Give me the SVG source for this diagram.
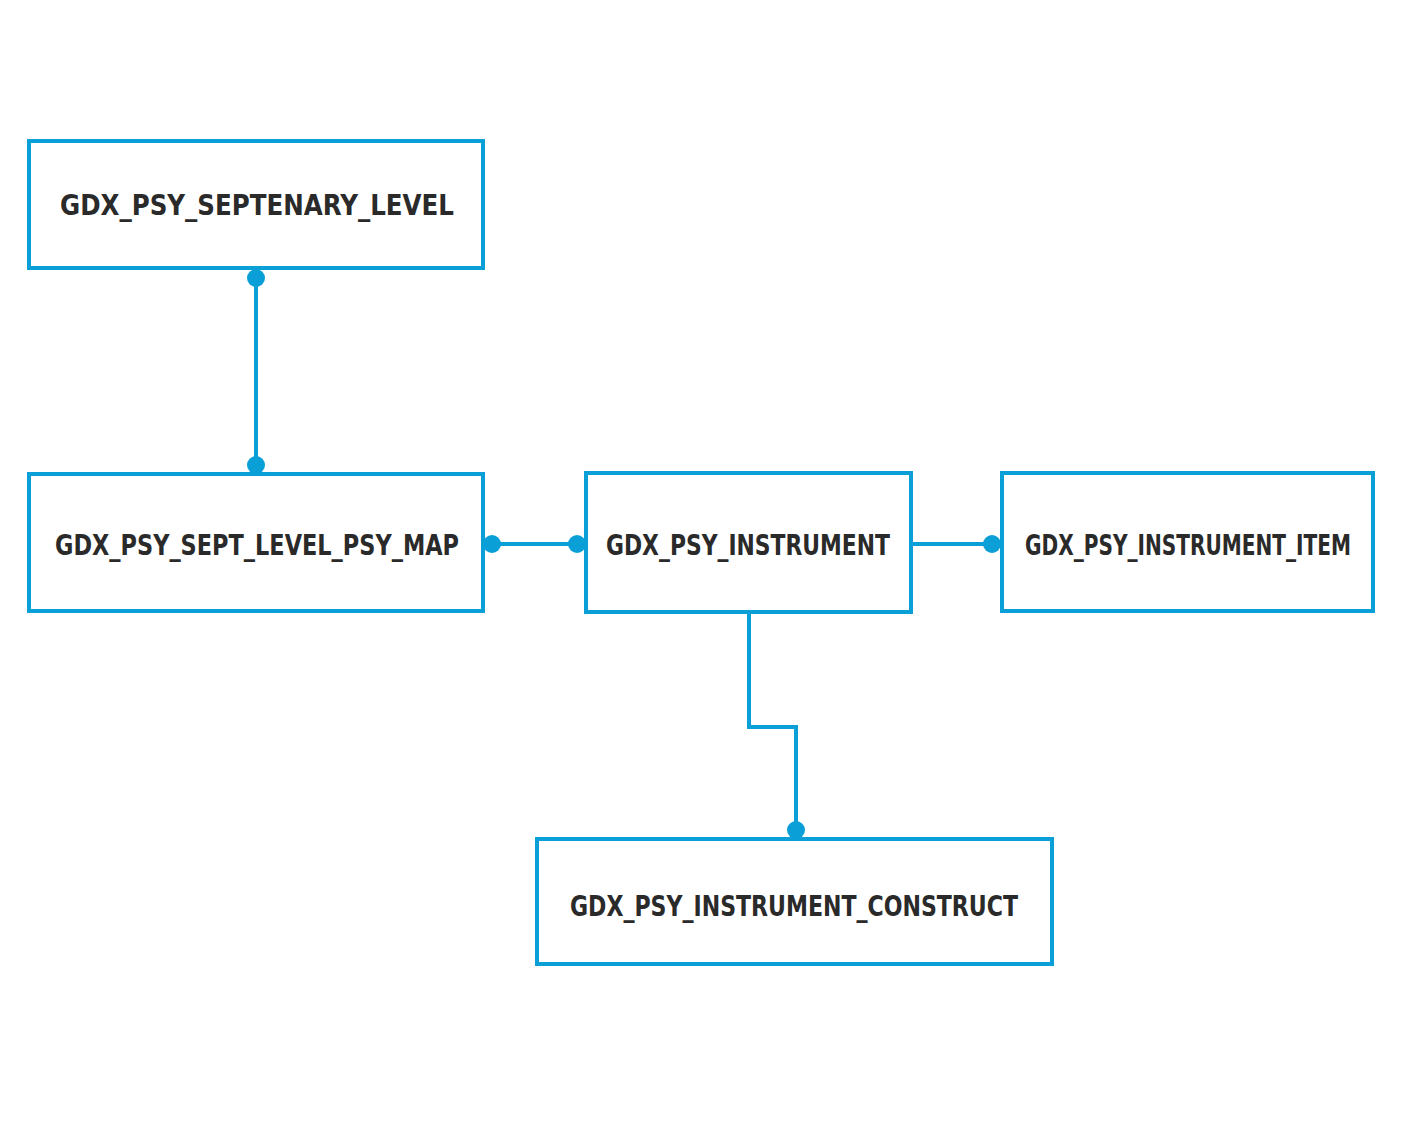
<svg xmlns="http://www.w3.org/2000/svg" width="1402" height="1122" viewBox="0 0 1402 1122">
<style>
.box{fill:#fff;stroke:#0a9fd6;stroke-width:4}
.lbl{font-family:"DejaVu Sans Condensed","DejaVu Sans",sans-serif;font-weight:bold;font-size:29px;fill:#2a2a2a;text-anchor:middle;dominant-baseline:central}
.ln{fill:none;stroke:#0a9fd6;stroke-width:4}
.dot{fill:#0a9fd6}
</style>
<rect width="1402" height="1122" fill="#fff"/>
<g id="connectors">
<path class="ln" d="M256 278V465"/>
<path class="ln" d="M492 544H577"/>
<path class="ln" d="M911 544H992"/>
<path class="ln" d="M749 612V727H796V830"/>
<circle class="dot" cx="256" cy="278" r="9"/>
<circle class="dot" cx="256" cy="465" r="9"/>
<circle class="dot" cx="492" cy="544" r="9"/>
<circle class="dot" cx="577" cy="544" r="9"/>
<circle class="dot" cx="992" cy="544" r="9"/>
<circle class="dot" cx="796" cy="830" r="9"/>
</g>
<g id="n1"><rect class="box" x="29" y="141" width="454" height="127"/><text class="lbl" x="257" y="205" textLength="394" lengthAdjust="spacingAndGlyphs">GDX_PSY_SEPTENARY_LEVEL</text></g>
<g id="n2"><rect class="box" x="29" y="474" width="454" height="137"/><text class="lbl" x="257" y="545" textLength="404" lengthAdjust="spacingAndGlyphs">GDX_PSY_SEPT_LEVEL_PSY_MAP</text></g>
<g id="n3"><rect class="box" x="586" y="473" width="325" height="139"/><text class="lbl" x="748" y="545" textLength="284" lengthAdjust="spacingAndGlyphs">GDX_PSY_INSTRUMENT</text></g>
<g id="n4"><rect class="box" x="1002" y="473" width="371" height="138"/><text class="lbl" x="1188" y="545" textLength="326" lengthAdjust="spacingAndGlyphs">GDX_PSY_INSTRUMENT_ITEM</text></g>
<g id="n5"><rect class="box" x="537" y="839" width="515" height="125"/><text class="lbl" x="794" y="906" textLength="448" lengthAdjust="spacingAndGlyphs">GDX_PSY_INSTRUMENT_CONSTRUCT</text></g>
</svg>
